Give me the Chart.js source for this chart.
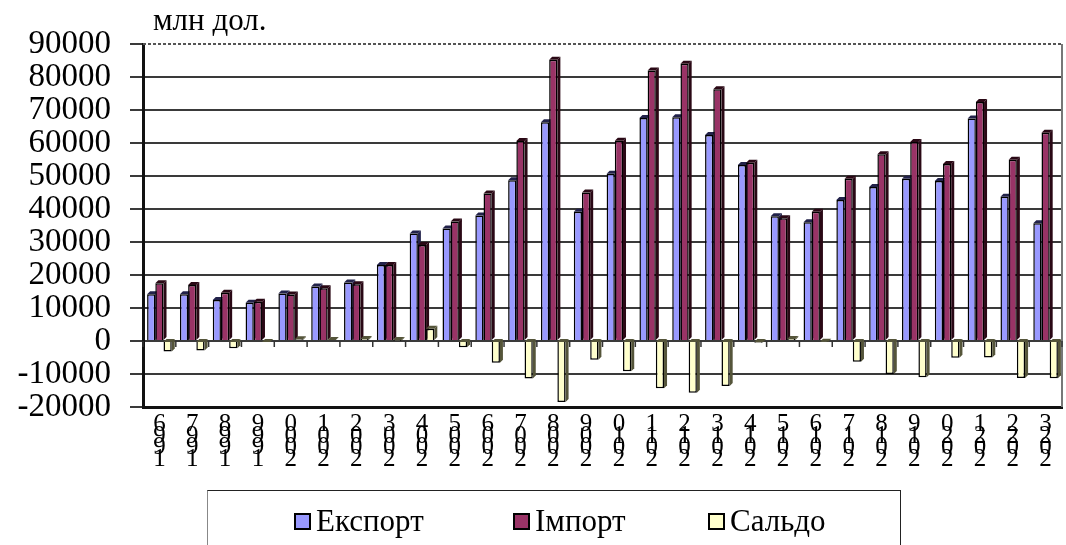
<!DOCTYPE html>
<html lang="uk">
<head>
<meta charset="utf-8">
<script src="https://cdn.jsdelivr.net/npm/chart.js@4.4.1/dist/chart.umd.min.js"></script>
<style>
  body { margin: 0; background: #fff; overflow: hidden; }
  #wrap { position: relative; width: 1066px; height: 545px; overflow: hidden; }
  #legend { position: absolute; left: 207px; top: 490px; width: 692px; height: 70px;
            border: 1.5px solid #222; border-left-color: #888;
            font-family: "Liberation Serif", "DejaVu Serif", Times, serif; font-size: 31px; color: #000; }
  .item { position: absolute; top: 12px; display: flex; align-items: center; }
  .box { width: 13px; height: 13px; border: 2.5px solid #000; margin-right: 5px; }
</style>
</head>
<body>
<div id="wrap">
  <canvas id="myChart" width="1066" height="545"></canvas>
  <div id="legend"></div>
</div>
<script>
  const FONT = '"Liberation Serif", "DejaVu Serif", Times, serif';

  // years on the axis (drawn as stacked, reversed digits like the source)
  const years = ['1996','1997','1998','1999','2000','2001','2002','2003','2004','2005',
                 '2006','2007','2008','2009','2010','2011','2012','2013','2014','2015',
                 '2016','2017','2018','2019','2020','2021','2022','2023'];
  const exportVals = [14200,14200,12400,11600,14400,16500,17700,23000,32600,34100,
                      38000,48700,66300,39200,50700,67600,67800,62400,53300,37800,
                      36000,42700,46700,49200,48500,67400,43700,35700];
  const importVals = [17500,17000,14600,11900,14100,16000,17200,23000,29100,36200,
                      44700,60600,85200,45000,60700,82000,84000,76300,54000,37200,
                      39200,49200,56600,60300,53600,72400,54900,63100];
  const saldoVals  = [-3200,-2900,-2200,-300,500,300,600,100,3700,-1900,
                      -6600,-11400,-18500,-5700,-9200,-14300,-15700,-13600,-500,600,
                      -200,-6300,-10000,-11000,-5100,-5000,-11200,-11300];
  const seriesNames = ['Експорт', 'Імпорт', 'Сальдо'];
  const colors = ['#9999ff', '#993366', '#ffffcc'];
  const sideColors = ['#22224a', '#2a0815', '#55553a'];

  const tickLabels = years.map(y => y.split('').reverse());

  // fake 3d faces + extra frame bits
  const decor = {
    id: 'decor',
    beforeDatasetsDraw(chart) {
      const ctx = chart.ctx, a = chart.chartArea;
      ctx.save();
      ctx.beginPath();
      ctx.rect(a.left, a.top - 6, a.right - a.left + 6, a.bottom - a.top + 6);
      ctx.clip();
      chart.data.datasets.forEach((ds, i) => {
        chart.getDatasetMeta(i).data.forEach(el => {
          const half = el.width / 2, d = 3;
          const top = Math.min(el.y, el.base), bot = Math.max(el.y, el.base);
          const l = el.x - half, r = el.x + half;
          ctx.fillStyle = sideColors[i];
          ctx.beginPath();
          ctx.moveTo(r, top); ctx.lineTo(r + d, top - d); ctx.lineTo(r + d, bot - d); ctx.lineTo(r, bot);
          ctx.closePath(); ctx.fill();
          ctx.beginPath();
          ctx.moveTo(l, top); ctx.lineTo(l + d, top - d); ctx.lineTo(r + d, top - d); ctx.lineTo(r, top);
          ctx.closePath(); ctx.fill();
        });
      });
      ctx.restore();
    },
    afterDraw(chart) {
      const ctx = chart.ctx, a = chart.chartArea;
      ctx.save();
      // dotted top edge
      ctx.strokeStyle = '#555';
      ctx.lineWidth = 2;
      ctx.setLineDash([3, 2]);
      ctx.beginPath(); ctx.moveTo(a.left, a.top); ctx.lineTo(a.right, a.top); ctx.stroke();
      ctx.setLineDash([]);
      // right edge
      ctx.strokeStyle = '#777';
      ctx.beginPath(); ctx.moveTo(a.right, a.top); ctx.lineTo(a.right, a.bottom); ctx.stroke();
      // small ticks on the zero line
      const y0 = chart.scales.y.getPixelForValue(0);
      const step = (a.right - a.left) / years.length;
      ctx.strokeStyle = '#333';
      ctx.lineWidth = 1.5;
      for (let i = 0; i <= years.length; i++) {
        const x = a.left + i * step;
        ctx.beginPath(); ctx.moveTo(x, y0); ctx.lineTo(x, y0 + 6); ctx.stroke();
      }
      // unit label
      ctx.fillStyle = '#000';
      ctx.font = '31px ' + FONT;
      ctx.textBaseline = 'alphabetic';
      ctx.fillText('млн дол.', 153, 30);
      ctx.restore();
    }
  };

  const ctx = document.getElementById('myChart').getContext('2d');
  const myChart = new Chart(ctx, {
    type: 'bar',
    data: {
      labels: tickLabels,
      datasets: [exportVals, importVals, saldoVals].map((vals, i) => ({
        label: seriesNames[i],
        data: vals,
        backgroundColor: colors[i],
        borderColor: '#000',
        borderWidth: 1.5,
        categoryPercentage: 0.75,
        barPercentage: 1.0
      }))
    },
    options: {
      responsive: false,
      animation: false,
      layout: { padding: { top: 44, right: 4, left: 0, bottom: 0 } },
      plugins: { legend: { display: false }, tooltip: { enabled: false } },
      scales: {
        x: {
          grid: { display: false },
          border: { display: true, color: '#111', width: 3 },
          ticks: {
            color: '#000', padding: 4, maxRotation: 0, autoSkip: false,
            font: { family: FONT, size: 25, lineHeight: 0.46 }
          },
          afterFit: s => { s.height = 138; }
        },
        y: {
          min: -20000, max: 90000,
          grid: {
            color: c => c.tick && c.tick.value === 90000 ? 'rgba(0,0,0,0)' : '#3a3a3a',
            lineWidth: 2, tickLength: 13, tickColor: '#3a3a3a'
          },
          border: { display: true, color: '#111', width: 3 },
          ticks: {
            stepSize: 10000, padding: 19, color: '#000', autoSkip: false,
            font: { family: FONT, size: 33 },
            callback: v => String(v)
          },
          afterFit: s => { s.width = 143; }
        }
      }
    },
    plugins: [decor]
  });

  // legend in a framed box under the chart
  const legendEl = document.getElementById('legend');
  const legendLeft = [86, 305, 500];
  seriesNames.forEach((name, i) => {
    const item = document.createElement('div');
    item.className = 'item';
    item.style.left = legendLeft[i] + 'px';
    item.innerHTML = '<span class="box" style="background:' + colors[i] + '"></span>' + name;
    legendEl.appendChild(item);
  });
</script>
</body>
</html>
